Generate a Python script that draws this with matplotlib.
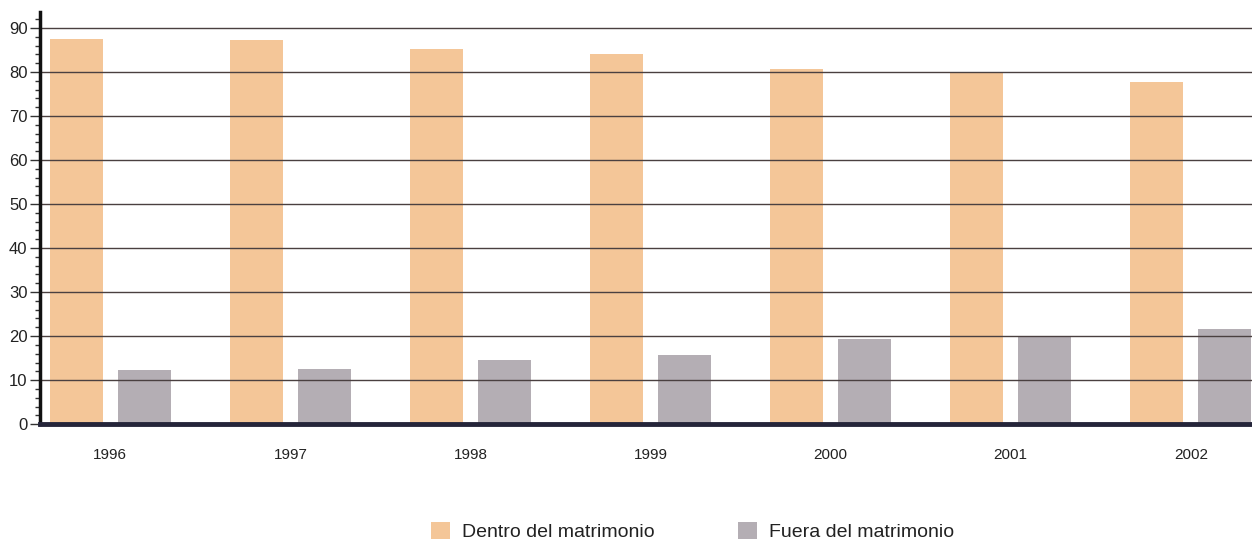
import numpy as np
import matplotlib
matplotlib.use("Agg")
import matplotlib.pyplot as plt
from matplotlib.ticker import MultipleLocator
from matplotlib.patches import Patch

years = ["1996", "1997", "1998", "1999", "2000", "2001", "2002"]
dentro = [87.5, 87.2, 85.3, 84.0, 80.7, 80.0, 77.8]
fuera = [12.2, 12.5, 14.5, 15.7, 19.3, 19.7, 21.6]
labels = ["Dentro del matrimonio", "Fuera del matrimonio"]

c_dentro = "#f4c698"
c_fuera = "#b4aeb4"

plt.rcParams['font.family'] = ['Liberation Sans', 'DejaVu Sans']

fig = plt.figure(figsize=(12.52, 5.48), dpi=100)
ax = fig.add_axes([0.032, 0.226, 0.968, 0.752])

x = np.arange(len(years))
w = 0.295
ax.bar(x - 0.189, dentro, width=w, color=c_dentro, zorder=1)
ax.bar(x + 0.189, fuera, width=w, color=c_fuera, zorder=1)

ax.set_xlim(-0.39, 6.34)
ax.set_ylim(0, 93.6)

# horizontal rules drawn over the bars
for v in range(10, 100, 10):
    ax.axhline(v, color="#4a4040", linewidth=1.0, zorder=2)

ax.yaxis.set_major_locator(MultipleLocator(10))
ax.yaxis.set_minor_locator(MultipleLocator(2))
ax.tick_params(axis='y', which='major', length=7, width=1, color="#333333",
               labelsize=12, labelcolor="#222222", pad=2)
ax.tick_params(axis='y', which='minor', length=3.5, width=1, color="#333333")

ax.set_xticks(x)
ax.set_xticklabels(years)
ax.tick_params(axis='x', length=0, labelsize=11, labelcolor="#222222", pad=17)

for s in ['top', 'right']:
    ax.spines[s].set_visible(False)
ax.spines['left'].set_linewidth(2.5)
ax.spines['left'].set_color("#111111")
ax.spines['bottom'].set_linewidth(3.5)
ax.spines['bottom'].set_color("#25253a")
ax.spines['bottom'].set_zorder(3)

handles = [Patch(facecolor=c_dentro, edgecolor='none'),
           Patch(facecolor=c_fuera, edgecolor='none')]
fig.legend(handles, labels, loc='center', bbox_to_anchor=(0.553, 0.03), ncol=2,
           frameon=False, fontsize=14, handlelength=1.0, handleheight=1.0,
           handletextpad=0.6, columnspacing=4.3, labelcolor="#222222")

fig.savefig("out.png", dpi=100)
